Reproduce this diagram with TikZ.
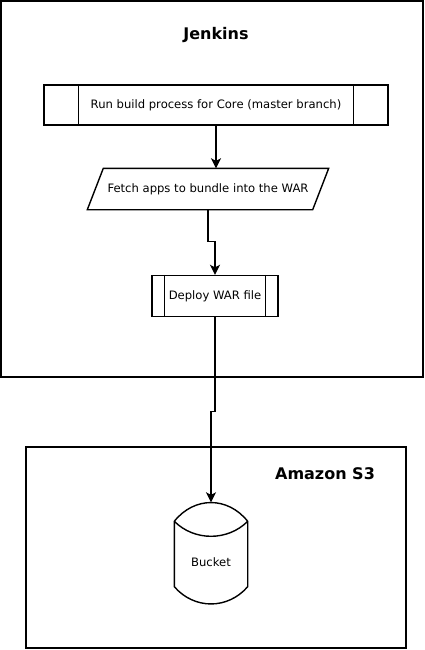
\documentclass[tikz,border=0pt]{standalone}
\usepackage{fontspec}
\setmainfont{DejaVu Sans}
\usetikzlibrary{arrows.meta}

\begin{document}
\begin{tikzpicture}[x=1pt,y=-1pt,>={Stealth[length=10pt,width=10pt,inset=2.5pt]},line width=1.4pt,font=\fontsize{11.6}{13}\selectfont]
\tikzstyle{box}=[draw,minimum height=40,inner sep=0pt]
\tikzstyle{title}=[font=\fontsize{16}{19}\selectfont\bfseries]
\useasboundingbox (0,0) rectangle (424,650);
% containers
\draw (1,1) rectangle (423,377);
\draw (26,447) rectangle (406,648);
\node[title] (jenkinstitle) at (216,35) {Jenkins};
\node[title] (s3title) at (325,474) {Amazon S3};
% steps
\node[box,minimum width=344] (proc) at (216,105) {Run build process for Core (master branch)};
\node[minimum width=224,minimum height=40,inner sep=0pt] (fetch) at (208,189) {Fetch apps to bundle into the WAR};
\draw ([xshift=8]fetch.north west) -- ([xshift=8]fetch.north east) -- ([xshift=-8]fetch.south east) -- ([xshift=-8]fetch.south west) -- cycle;
\node[box,minimum width=126,minimum height=41] (deploy) at (215,296) {Deploy WAR file};
\foreach \n/\d in {proc/35,deploy/13} {\draw ([xshift=\d]\n.north west) -- ([xshift=\d]\n.south west); \draw ([xshift=-\d]\n.north east) -- ([xshift=-\d]\n.south east);}
% bucket
\node[minimum width=72,minimum height=100,inner sep=0pt,label={[yshift=-9pt]center:Bucket}] (bucket) at (211,553) {};
\draw ([yshift=-19pt]bucket.north west) .. controls +(20,-25) and +(-20,-25) .. ([yshift=-19pt]bucket.north east) -- ([yshift=17pt]bucket.south east) .. controls +(-20,23) and +(20,23) .. ([yshift=17pt]bucket.south west) -- cycle;
\draw ([yshift=-19pt]bucket.north west) .. controls +(20,20) and +(-20,20) .. ([yshift=-19pt]bucket.north east);
% flow
\draw[->] (proc.south) -- (proc.south |- fetch.north);
\draw[->] (fetch.south) -- ++(0,32) -| (deploy.north);
\draw[->] (deploy.south) -- ++(0,94) -| (bucket.north);
\end{tikzpicture}
\end{document}
